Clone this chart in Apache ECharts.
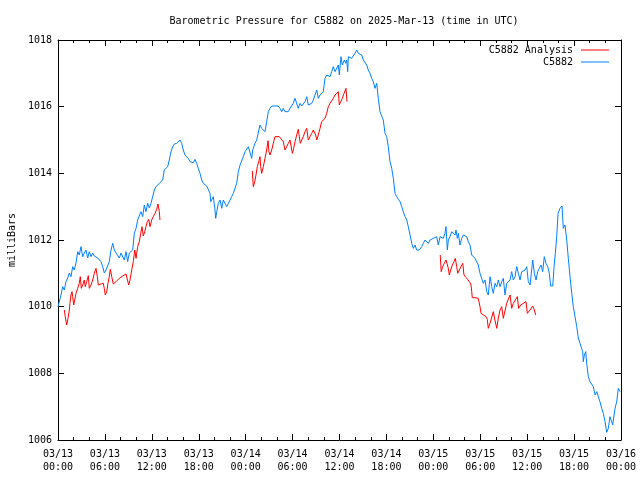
<!DOCTYPE html>
<html>
<head>
<meta charset="utf-8">
<script src="https://cdn.jsdelivr.net/npm/echarts@6/dist/echarts.min.js"></script>
<style>html,body{margin:0;padding:0;background:#fff;}#c{width:640px;height:480px;}</style>
</head>
<body>
<div id="c"></div>
<script>
// hours since 03/13 00:00 UTC, pressure in millibars
const c5882 = [
[0,1010.0],[0.38,1010.35],[0.6,1010.6],[0.81,1010.5],[1.02,1010.75],[1.24,1010.86],[1.45,1011.01],[1.66,1010.9],[1.88,1011.2],[2.08,1011.1],
[2.3,1011.31],[2.52,1011.65],[2.72,1011.55],[2.94,1011.8],[3.16,1011.5],[3.36,1011.61],[3.58,1011.7],[3.8,1011.46],[4.0,1011.65],[4.22,1011.5],
[4.44,1011.61],[4.64,1011.52],[4.86,1011.58],[5.08,1011.46],[5.28,1011.5],[5.5,1011.35],[5.72,1011.2],[5.92,1011.01],[6.14,1011.1],[6.36,1011.05],
[6.56,1011.35],[6.78,1011.7],[7.0,1011.9],[7.2,1011.7],[7.42,1011.61],[7.64,1011.65],[7.84,1011.46],[8.06,1011.61],[8.27,1011.55],[8.48,1011.4],
[8.7,1011.65],[8.91,1011.35],[9.12,1011.61],[9.34,1011.55],[9.55,1011.7],[9.76,1012.2],[9.98,1012.35],[10.19,1012.6],[10.4,1012.55],[10.61,1012.85],
[10.83,1012.7],[11.04,1013.05],[11.25,1012.85],[11.47,1013.1],[11.68,1012.96],[11.89,1013.1],[12.11,1013.15],[12.32,1013.5],[12.53,1013.6],[12.75,1013.65],
[12.96,1013.7],[13.17,1013.75],[13.39,1013.8],[13.59,1014.1],[13.81,1014.15],[14.03,1014.2],[14.23,1014.4],[14.45,1014.65],[14.67,1014.8],[14.87,1014.88],
[15.18,1014.9],[15.39,1014.85],[15.6,1015.0],[15.82,1014.9],[16.02,1014.7],[16.24,1014.55],[16.46,1014.6],[16.66,1014.45],[16.88,1014.35],[17.1,1014.4],
[17.3,1014.32],[17.52,1014.42],[17.74,1014.3],[17.94,1014.15],[18.16,1014.0],[18.38,1013.8],[18.58,1013.7],[18.8,1013.68],[19.02,1013.62],[19.22,1013.6],
[19.44,1013.4],[19.53,1013.15],[19.66,1013.2],[19.86,1013.3],[20.08,1012.9],[20.17,1012.65],[20.3,1012.85],[20.5,1013.1],[20.72,1013.2],[20.94,1012.95],
[21.14,1013.2],[21.36,1013.1],[21.58,1013.0],[21.78,1013.05],[22.0,1013.2],[22.21,1013.3],[22.42,1013.4],[22.64,1013.45],[22.85,1013.7],[23.06,1014.05],
[23.28,1014.25],[23.49,1014.22],[23.7,1014.5],[23.92,1014.65],[24.13,1014.6],[24.34,1014.8],[24.56,1014.85],[24.77,1014.45],[24.9,1014.7],[25.19,1014.9],
[25.41,1015.0],[25.62,1015.05],[25.83,1015.45],[26.05,1015.35],[26.26,1015.35],[26.47,1015.25],[26.69,1015.55],[26.9,1015.85],[27.11,1015.95],[27.33,1016.02],
[27.75,1016.02],[28.14,1016.02],[28.39,1015.95],[28.61,1015.85],[28.81,1015.95],[29.03,1015.85],[29.25,1015.9],[29.45,1015.85],[29.67,1015.95],[29.89,1016.0],
[30.09,1016.1],[30.31,1016.25],[30.53,1016.3],[30.73,1015.95],[30.95,1016.1],[31.17,1016.02],[31.37,1016.02],[31.59,1016.15],[31.81,1016.3],[32.01,1016.05],
[32.23,1016.1],[32.45,1016.1],[32.65,1016.2],[32.87,1016.15],[33.09,1016.5],[33.29,1016.25],[33.51,1016.35],[33.72,1016.4],[33.93,1016.45],[34.15,1016.85],
[34.36,1016.95],[34.57,1017.0],[34.79,1016.9],[35.0,1017.05],[35.21,1017.2],[35.43,1017.05],[35.65,1017.1],[35.85,1017.25],[35.98,1016.95],[36.19,1017.5],
[36.36,1017.25],[36.62,1017.4],[36.79,1017.3],[36.92,1017.4],[37.05,1017.05],[37.13,1017.5],[37.34,1017.45],[37.56,1017.45],[37.77,1017.5],[37.98,1017.6],
[38.2,1017.7],[38.41,1017.6],[38.62,1017.65],[38.84,1017.55],[39.05,1017.4],[39.26,1017.35],[39.48,1017.25],[39.68,1017.1],[39.9,1017.0],[40.12,1016.85],
[40.32,1016.75],[40.54,1016.55],[40.76,1016.7],[40.96,1016.25],[41.18,1015.85],[41.4,1015.8],[41.6,1015.6],[41.82,1015.2],[42.04,1015.1],[42.24,1014.8],
[42.46,1014.35],[42.68,1014.15],[42.88,1013.85],[43.1,1013.4],[43.32,1013.3],[43.52,1013.22],[43.74,1013.15],[43.96,1013.0],[44.16,1012.85],[44.38,1012.7],
[44.6,1012.6],[44.8,1012.4],[45.02,1012.15],[45.24,1011.9],[45.44,1011.75],[45.66,1011.85],[45.87,1011.7],[46.21,1011.7],[46.51,1011.8],[46.72,1011.9],
[46.94,1012.0],[47.15,1011.95],[47.36,1011.9],[47.58,1012.0],[47.79,1011.95],[48.0,1012.05],[48.21,1012.0],[48.43,1012.1],[48.64,1011.85],[48.86,1012.1],
[49.07,1012.1],[49.28,1012.05],[49.49,1012.2],[49.62,1012.4],[49.79,1011.7],[49.92,1012.0],[50.13,1012.1],[50.35,1012.25],[50.56,1012.3],[50.77,1012.15],
[50.9,1012.3],[51.07,1012.05],[51.2,1012.2],[51.41,1011.85],[51.63,1012.05],[51.84,1012.15],[52.05,1012.2],[52.27,1012.1],[52.47,1011.95],[52.69,1011.85],
[52.91,1011.55],[53.11,1011.6],[53.33,1011.45],[53.55,1011.5],[53.75,1011.25],[53.97,1011.0],[54.18,1010.95],[54.39,1010.7],[54.61,1010.8],[54.83,1010.45],
[55.03,1010.35],[55.25,1010.9],[55.47,1010.6],[55.67,1010.4],[55.89,1010.7],[56.11,1010.6],[56.31,1010.8],[56.53,1010.6],[56.75,1010.75],[56.95,1010.85],
[57.17,1010.35],[57.38,1010.7],[57.59,1010.75],[57.81,1010.8],[58.02,1011.05],[58.23,1010.8],[58.45,1010.9],[58.66,1011.2],[58.87,1011.0],[59.09,1010.8],
[59.3,1011.05],[59.51,1011.0],[59.73,1011.1],[59.94,1011.2],[60.15,1010.75],[60.37,1010.65],[60.58,1010.6],[60.71,1011.4],[60.92,1011.0],[61.13,1010.8],
[61.35,1011.05],[61.56,1011.15],[61.77,1011.25],[61.99,1011.05],[62.19,1011.5],[62.41,1011.3],[62.63,1011.2],[62.83,1011.0],[63.01,1010.62],[63.27,1010.62],
[63.44,1011.2],[63.6,1011.6],[63.78,1012.1],[63.95,1012.8],[64.2,1012.95],[64.46,1013.02],[64.62,1012.35],[64.84,1012.45],[65.06,1012.0],[65.26,1011.45],
[65.48,1010.9],[65.7,1010.4],[65.9,1010.0],[66.12,1009.7],[66.34,1009.4],[66.54,1009.06],[66.76,1008.9],[66.98,1008.9],[67.1,1008.65],[67.18,1008.35],
[67.31,1008.55],[67.49,1008.65],[67.61,1008.3],[67.82,1007.9],[68.04,1007.75],[68.25,1007.8],[68.46,1007.6],[68.68,1007.35],[68.9,1007.45],[69.1,1007.3],
[69.31,1007.15],[69.53,1006.95],[69.74,1006.8],[69.96,1006.55],[70.17,1006.23],[70.38,1006.35],[70.59,1006.7],[70.81,1006.75],[70.94,1006.45],[71.11,1006.75],
[71.24,1006.95],[71.45,1007.15],[71.66,1007.55],[71.88,1007.45]
];
const analysisRun1 = [
[0.81,1009.9],[0.93,1009.7],[1.11,1009.45],[1.28,1009.65],[1.45,1009.9],[1.53,1010.1],[1.66,1010.35],[1.79,1010.45],[1.88,1010.3],[2.01,1010.05],
[2.14,1010.2],[2.3,1010.4],[2.52,1010.55],[2.72,1010.7],[2.85,1010.9],[2.98,1010.55],[3.16,1010.65],[3.36,1010.8],[3.49,1010.6],[3.67,1010.75],
[3.88,1010.93],[4.0,1010.55],[4.22,1010.65],[4.44,1010.8],[4.64,1011.0],[4.86,1011.15],[5.03,1010.9],[5.15,1010.65],[5.5,1010.68],[5.79,1010.7],
[5.92,1010.55],[6.05,1010.35],[6.23,1010.45],[6.39,1010.7],[6.56,1010.9],[6.69,1011.12],[6.87,1010.9],[7.07,1010.68],[7.42,1010.75],[7.84,1010.85],
[8.27,1010.92],[8.7,1010.98],[8.91,1011.02],[9.04,1010.65],[9.21,1010.8],[9.43,1011.1],[9.63,1011.35],[9.81,1011.7],[9.98,1011.45],[10.19,1011.8],
[10.4,1011.95],[10.58,1012.2],[10.74,1012.4],[10.91,1012.12],[11.09,1012.25],[11.25,1012.4],[11.42,1012.55],[11.6,1012.62],[11.77,1012.4],[11.98,1012.6],
[12.19,1012.7],[12.41,1012.8],[12.62,1012.92],[12.79,1013.08],[12.96,1012.85],[13.04,1012.6]
];
const analysisRun2 = [
[24.85,1014.07],[24.98,1013.6],[25.16,1013.75],[25.32,1013.95],[25.49,1014.2],[25.67,1014.35],[25.83,1014.5],[25.92,1014.2],[26.05,1014.0],[26.26,1014.2],
[26.47,1014.45],[26.69,1014.7],[26.86,1014.98],[26.98,1014.65],[27.11,1014.55],[27.33,1014.7],[27.53,1014.9],[27.75,1015.1],[28.3,1015.1],[28.48,1015.05],
[28.81,1014.95],[29.03,1014.7],[29.25,1014.8],[29.45,1014.9],[29.67,1015.0],[29.8,1015.05],[29.97,1014.6],[30.14,1014.75],[30.31,1014.95],[30.53,1015.15],
[30.73,1015.32],[30.86,1015.1],[30.99,1014.9],[31.17,1015.0],[31.37,1015.1],[31.59,1015.25],[31.81,1015.35],[32.01,1015.0],[32.23,1015.1],[32.45,1015.2],
[32.65,1015.3],[32.78,1015.35],[32.96,1015.15],[33.09,1015.0],[33.29,1015.15],[33.51,1015.35],[33.72,1015.55],[33.93,1015.6],[34.15,1015.65],[34.36,1015.8],
[34.57,1016.0],[34.79,1016.1],[35.0,1016.15],[35.21,1016.25],[35.43,1016.35],[35.65,1016.4],[35.85,1016.45],[35.98,1016.05],[36.15,1016.15],[36.36,1016.25],
[36.58,1016.4],[36.83,1016.55],[36.96,1016.15]
];
const analysisRun3 = [
[48.88,1011.55],[49.01,1011.05],[49.19,1011.2],[49.4,1011.3],[49.62,1011.4],[49.79,1011.42],[49.92,1011.15],[50.04,1010.95],[50.22,1011.1],[50.43,1011.25],
[50.65,1011.35],[50.81,1011.45],[50.99,1011.2],[51.12,1011.0],[51.32,1011.1],[51.54,1011.2],[51.76,1011.3],[51.92,1010.95],[52.14,1010.88],[52.4,1010.82],
[52.69,1010.72],[52.82,1010.65],[52.91,1010.45],[52.98,1010.27],[53.33,1010.27],[53.75,1010.25],[53.97,1010.0],[54.1,1009.8],[54.74,1009.7],[54.9,1009.62],
[55.03,1009.35],[55.25,1009.5],[55.67,1009.85],[55.82,1009.66],[56.11,1009.35],[56.31,1009.66],[56.53,1009.9],[56.75,1010.0],[56.95,1009.65],[57.38,1010.1],
[57.81,1010.35],[58.02,1009.95],[58.23,1010.1],[58.74,1010.3],[58.91,1009.95],[59.17,1010.05],[59.85,1010.15],[60.02,1009.8],[60.37,1009.9],[60.71,1010.02],
[60.92,1009.9],[61.09,1009.75]
];
const xTickLabels = ['03/13\n00:00','03/13\n06:00','03/13\n12:00','03/13\n18:00','03/14\n00:00','03/14\n06:00','03/14\n12:00','03/14\n18:00','03/15\n00:00','03/15\n06:00','03/15\n12:00','03/15\n18:00','03/16\n00:00'];
const yTicks = [1006,1008,1010,1012,1014,1016,1018];
const titleText = 'Barometric Pressure for C5882 on 2025-Mar-13 (time in UTC)';
const yName = 'milliBars';
const nameAna = 'C5882 Analysis';
const nameObs = 'C5882';

const FONT = 'DejaVu Sans Mono, monospace';
const chart = echarts.init(document.getElementById('c'), null, {renderer:'canvas'});
const axisCommon = {
  axisLine:{show:true, onZero:false, lineStyle:{color:'#000', width:1}},
  splitLine:{show:false},
  axisTick:{show:true, inside:true, length:6, lineStyle:{color:'#000'}},
};
const xBase = {type:'value', min:0, max:72, interval:6};
const yBase = {type:'value', min:1006, max:1018, interval:2};
const legendCommon = {right:26, align:'right', itemWidth:28, itemHeight:1, itemGap:6, icon:'rect',
  textStyle:{fontFamily:FONT, fontSize:10, color:'#000', padding:[0,3,0,0]}, selectedMode:false};
chart.setOption({
  animation:false,
  backgroundColor:'#fff',
  title:{text:titleText, left:339, top:11, textAlign:'center',
    textStyle:{fontFamily:FONT, fontSize:10, fontWeight:'normal', color:'#000'}},
  legend:[
    Object.assign({data:[nameAna], top:40}, legendCommon),
    Object.assign({data:[nameObs], top:52}, legendCommon)
  ],
  grid:{left:58, right:19, top:40, bottom:40, containLabel:false, outerBoundsMode:'none'},
  xAxis:[
    Object.assign({}, xBase, axisCommon, {position:'bottom',
      minorTick:{show:true, splitNumber:3, length:3, lineStyle:{color:'#000'}},
      axisLabel:{margin:8, fontFamily:FONT, fontSize:10, color:'#000', lineHeight:13,
        formatter:function(v){return xTickLabels[Math.round(v/6)];}}}),
    Object.assign({}, xBase, axisCommon, {position:'top',
      minorTick:{show:true, splitNumber:3, length:3, lineStyle:{color:'#000'}},
      axisLabel:{show:false}})
  ],
  yAxis:[
    Object.assign({}, yBase, axisCommon, {position:'left', name:yName, nameLocation:'middle', nameGap:41,
      nameTextStyle:{fontFamily:FONT, fontSize:10, color:'#000'},
      axisLabel:{margin:6, fontFamily:FONT, fontSize:10, color:'#000',
        formatter:function(v){return yTicks.indexOf(v)>=0 ? String(v) : '';}}}),
    Object.assign({}, yBase, axisCommon, {position:'right', axisLabel:{show:false}})
  ],
  series:[
    {name:nameAna, type:'line', data:analysisRun1, symbol:'none', lineStyle:{color:'#ff0000', width:1}, itemStyle:{color:'#ff0000'}, z:3},
    {name:nameAna, type:'line', data:analysisRun2, symbol:'none', lineStyle:{color:'#ff0000', width:1}, itemStyle:{color:'#ff0000'}, z:3},
    {name:nameAna, type:'line', data:analysisRun3, symbol:'none', lineStyle:{color:'#ff0000', width:1}, itemStyle:{color:'#ff0000'}, z:3},
    {name:nameObs, type:'line', data:c5882, symbol:'none', lineStyle:{color:'#0080ff', width:1}, itemStyle:{color:'#0080ff'}, z:2}
  ]
});
</script>
</body>
</html>
